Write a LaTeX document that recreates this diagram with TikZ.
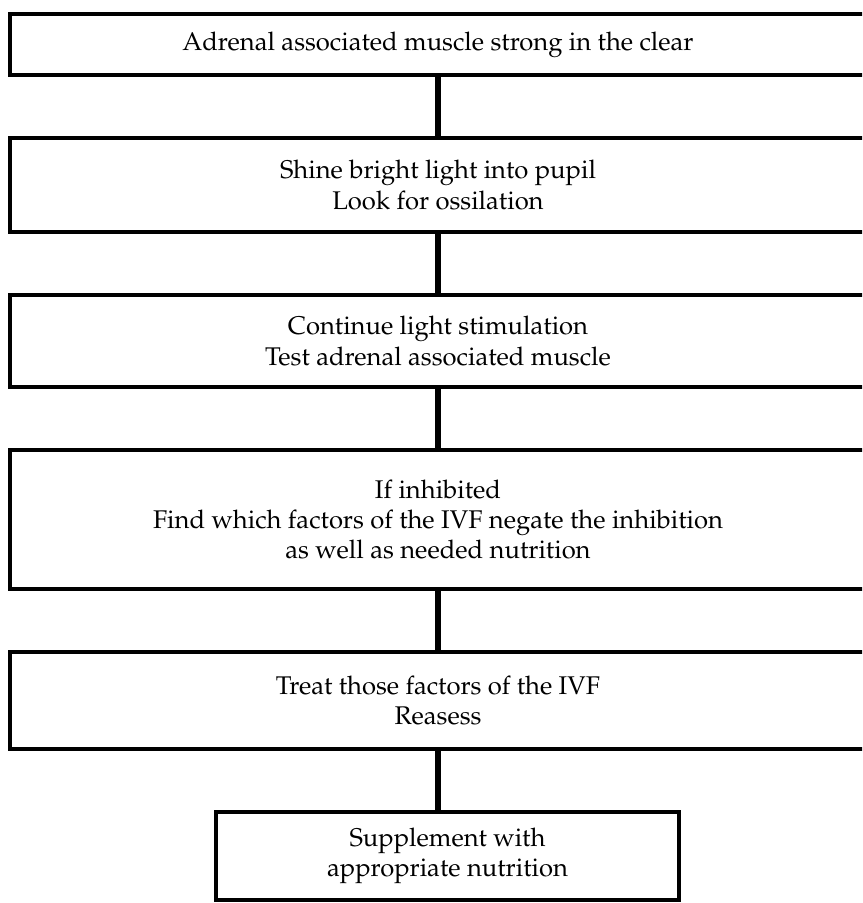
\documentclass[tikz,border=0pt]{standalone}
\usepackage[T1]{fontenc}
\usepackage{mathpazo}
\usetikzlibrary{positioning}

\begin{document}
\begin{tikzpicture}[node distance=29.5pt,
    stepbox/.style={draw, line width=2pt, align=center, minimum width=428pt,
        inner sep=0pt, font=\fontsize{12.8}{15.2}\selectfont},
    link/.style={line width=3pt}]
    \useasboundingbox (0,0) rectangle (431pt,-451.5pt);
    \clip (0,0) rectangle (431pt,-451.5pt);
    \node[stepbox, minimum height=30.5pt] (s_1) at (219pt,-22.25pt) {Adrenal associated muscle strong in the clear};
    \node[stepbox, minimum height=47pt] (s_2) [below= of s_1] {Shine bright light into pupil\\ Look for ossilation};
    \node[stepbox, minimum height=46pt] (s_3) [below= of s_2] {Continue light stimulation\\ Test adrenal associated muscle};
    \node[stepbox, minimum height=69.5pt] (s_4) [below= of s_3] {If inhibited\\ Find which factors of the IVF negate the inhibition\\ as well as needed nutrition};
    \node[stepbox, minimum height=48.5pt] (s_5) [below= of s_4] {Treat those factors of the IVF\\ Reasess};
    \node[stepbox, minimum width=231.5pt, minimum height=44pt] (s_6) [below= of s_5, xshift=4.75pt] {Supplement with\\ appropriate nutrition};
        \path[link]
        (s_1)   edge (s_2)
        (s_2)   edge (s_3)
        (s_3)   edge (s_4)
        (s_4)   edge (s_5)
        (s_5)   edge (s_5 |- s_6.north);

\end{tikzpicture}
\end{document}
